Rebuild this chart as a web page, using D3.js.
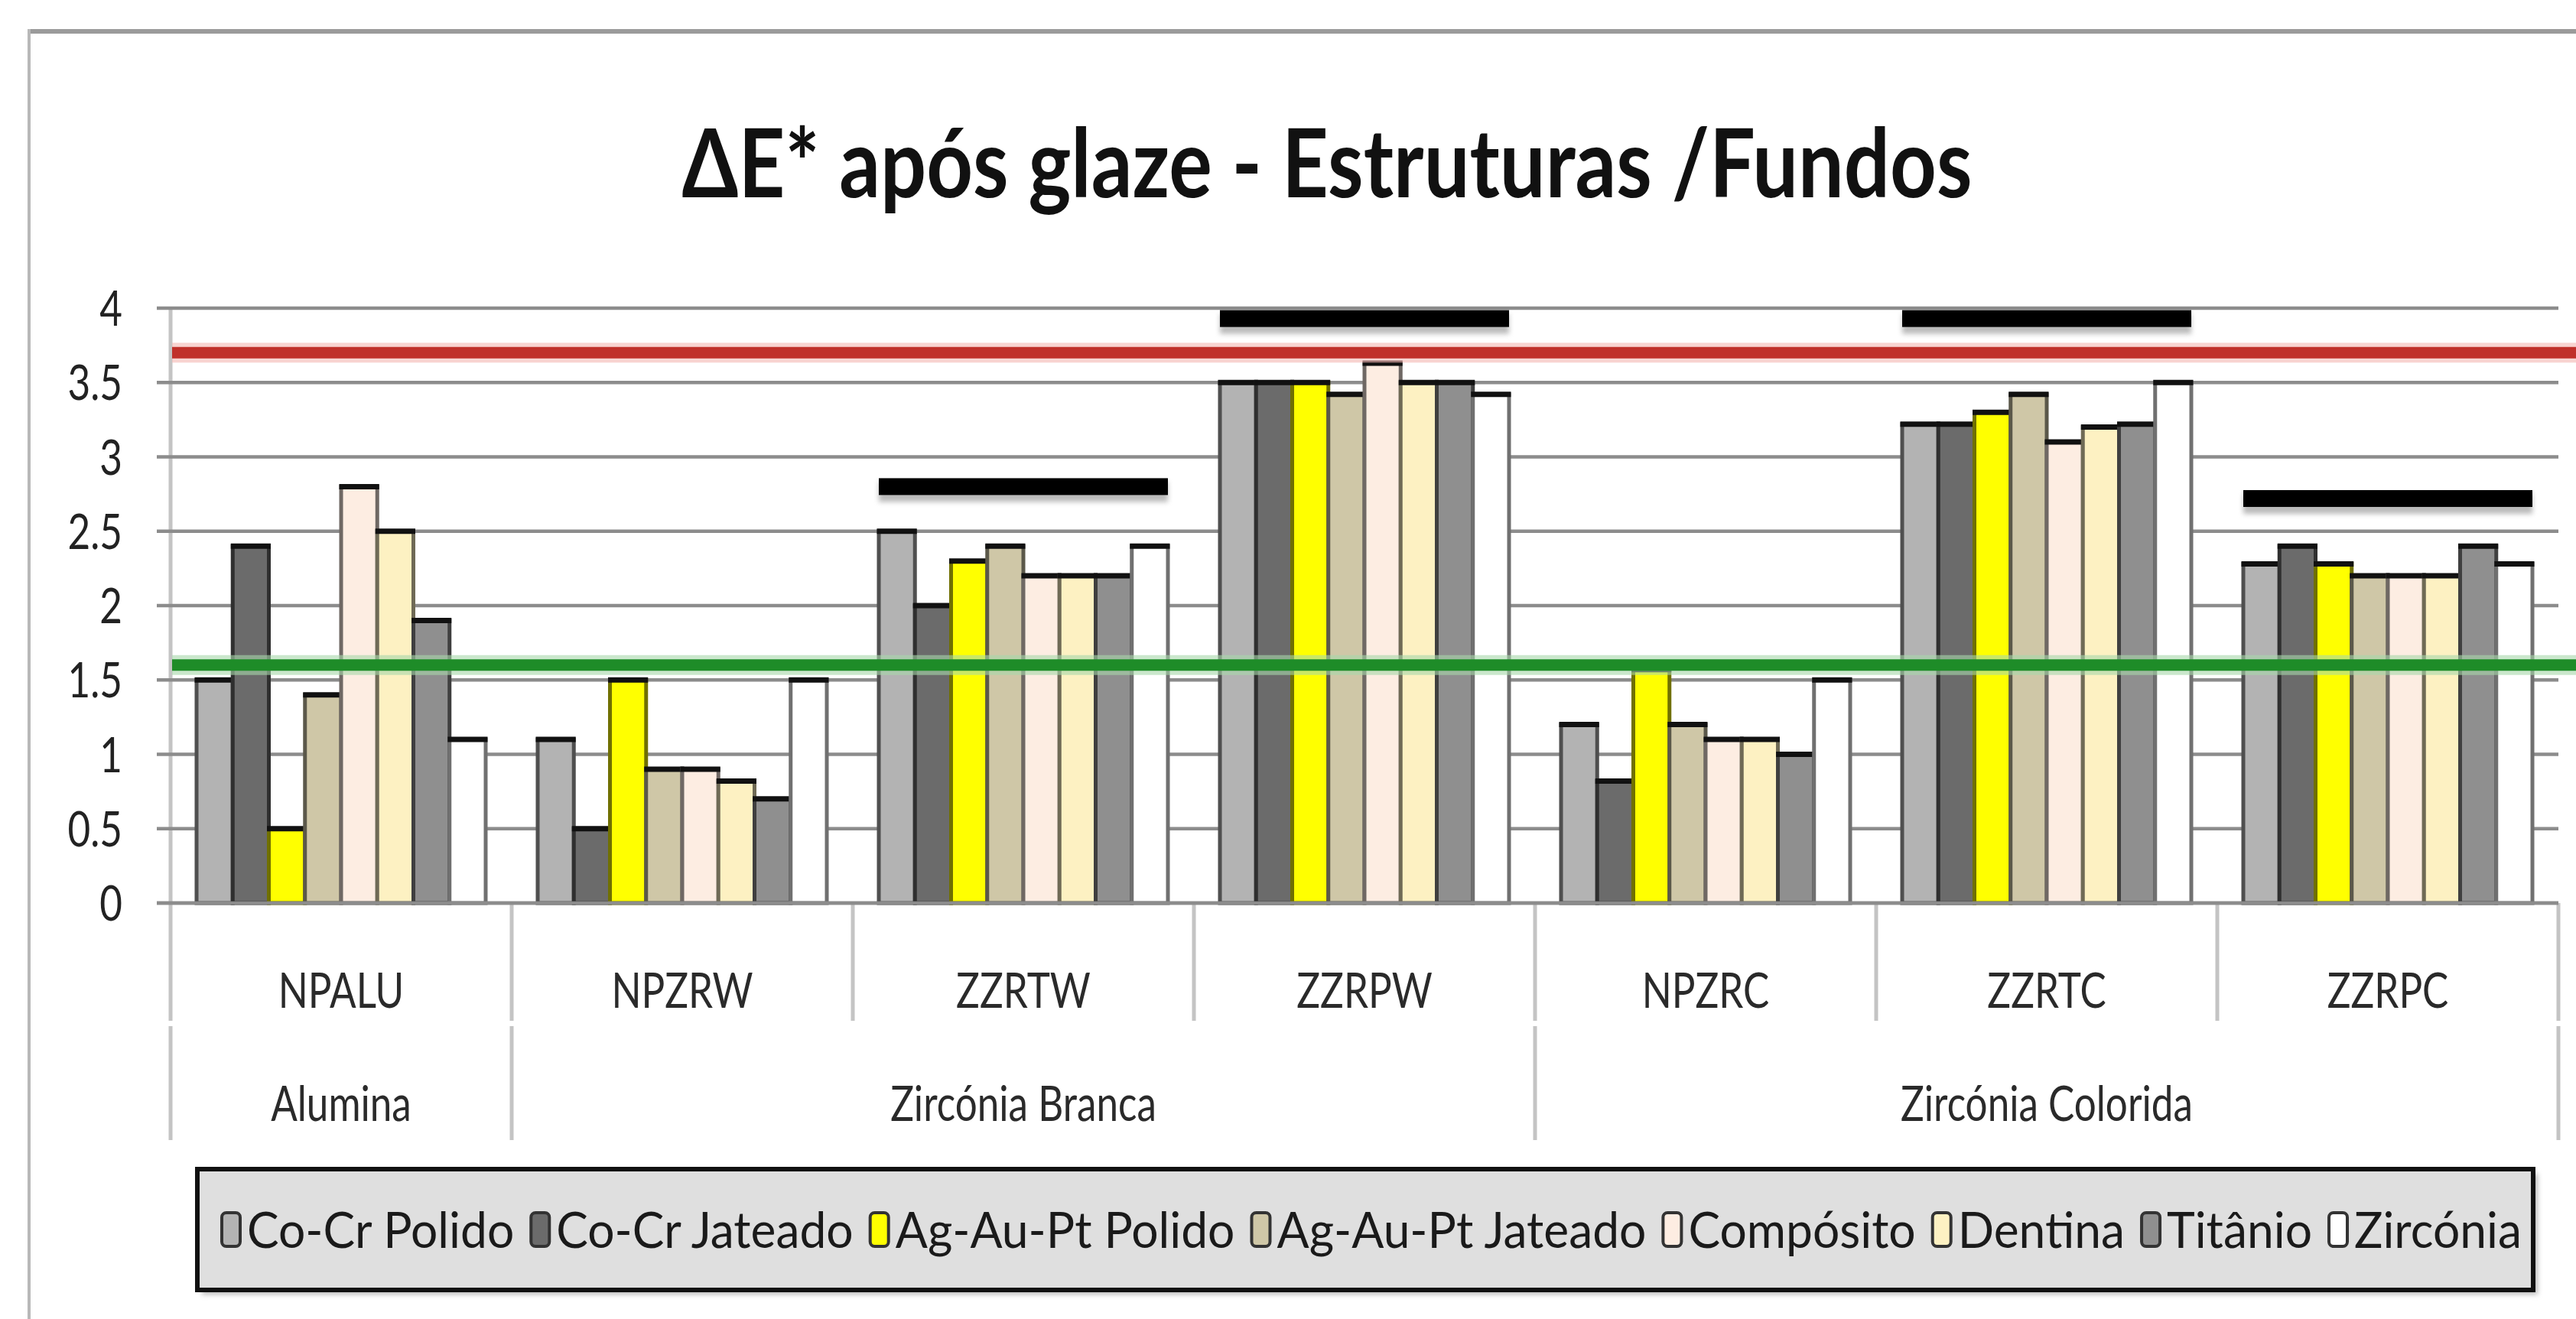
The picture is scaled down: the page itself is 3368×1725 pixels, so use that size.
<!DOCTYPE html>
<html lang="pt">
<head>
<meta charset="utf-8">
<script src="https://d3js.org/d3.v7.min.js"></script>
<style>
  body { margin: 0; background: #fff; }
  svg text { font-family: Lato, "Open Sans", sans-serif; }
</style>
<title>ΔE* após glaze</title>
</head>
<body>
<svg id="chart" width="3368" height="1725"></svg>
<script>
// ---- data ----
const categories = ["NPALU", "NPZRW", "ZZRTW", "ZZRPW", "NPZRC", "ZZRTC", "ZZRPC"];
const groups = ["Alumina", "Zircónia Branca", "Zircónia Colorida"];
const groupSizes = [1, 3, 3];

const seriesNames = ["Co-Cr Polido", "Co-Cr Jateado", "Ag-Au-Pt Polido", "Ag-Au-Pt Jateado",
                     "Compósito", "Dentina", "Titânio", "Zircónia"];
const seriesColors = ["#b3b3b3", "#6b6b6b", "#ffff00", "#cfc7a7",
                      "#fdede2", "#fdf1c2", "#8f8f8f", "#ffffff"];

// one value per category, same order as categories
const coCrPolido   = [1.5, 1.1, 2.5, 3.5, 1.2, 3.22, 2.28];
const coCrJateado  = [2.4, 0.5, 2.0, 3.5, 0.82, 3.22, 2.4];
const agAuPtPolido = [0.5, 1.5, 2.3, 3.5, 1.57, 3.3, 2.28];
const agAuPtJatead = [1.4, 0.9, 2.4, 3.42, 1.2, 3.42, 2.2];
const composito    = [2.8, 0.9, 2.2, 3.63, 1.1, 3.1, 2.2];
const dentina      = [2.5, 0.82, 2.2, 3.5, 1.1, 3.2, 2.2];
const titanio      = [1.9, 0.7, 2.2, 3.5, 1.0, 3.22, 2.4];
const zirconia     = [1.1, 1.5, 2.4, 3.42, 1.5, 3.5, 2.28];
const seriesValues = [coCrPolido, coCrJateado, agAuPtPolido, agAuPtJatead,
                      composito, dentina, titanio, zirconia];

const yTicks = [0, 0.5, 1, 1.5, 2, 2.5, 3, 3.5, 4];
const redLimit = 3.7;
const greenLimit = 1.6;

// black significance bars above some groups
const markerCats = ["ZZRTW", "ZZRPW", "ZZRTC", "ZZRPC"];
const markerVals = [2.8, 3.93, 3.93, 2.72];

// ---- layout ----
const W = 3368, H = 1725;
const plotL = 223, plotR = 3345, yTop = 403, yBot = 1181;
const svg = d3.select("#chart");

const x0 = d3.scaleBand().domain(categories).range([plotL, plotR]);
const groupPad = 34;
const x1 = d3.scaleBand().domain(seriesNames).range([groupPad, x0.bandwidth() - groupPad]);
const y = d3.scaleLinear().domain([0, 4]).range([yBot, yTop]);
const color = d3.scaleOrdinal().domain(seriesNames).range(seriesColors);

function squeeze(sel, k) {
  sel.each(function () {
    const w = this.getComputedTextLength();
    d3.select(this).attr("textLength", w * k).attr("lengthAdjust", "spacingAndGlyphs");
  });
}

// chart frame
svg.append("line").attr("x1", 38).attr("x2", W).attr("y1", 41).attr("y2", 41)
  .attr("stroke", "#9b9b9b").attr("stroke-width", 6);
svg.append("line").attr("x1", 38).attr("x2", 38).attr("y1", 38).attr("y2", H)
  .attr("stroke", "#b8b8b8").attr("stroke-width", 4);

// title
const title = svg.append("text")
  .attr("x", 1735).attr("y", 258)
  .attr("text-anchor", "middle")
  .attr("font-size", 124).attr("font-weight", "bold").attr("fill", "#111")
  .text("ΔE* após glaze - Estruturas /Fundos");
title.attr("textLength", 1687).attr("lengthAdjust", "spacingAndGlyphs");

// vertical axis line + category dividers
const bounds = d3.range(categories.length + 1).map(i => plotL + i * x0.bandwidth());
const groupBounds = [0];
groupSizes.forEach((s, i) => groupBounds.push(groupBounds[i] + s));

svg.append("g").selectAll("line").data(bounds).join("line")
  .attr("x1", d => d).attr("x2", d => d)
  .attr("y1", (d, i) => i === 0 ? yTop : yBot)
  .attr("y2", 1335)
  .attr("stroke", "#c4c4c4").attr("stroke-width", 5);
svg.append("g").selectAll("line").data(groupBounds).join("line")
  .attr("x1", i => bounds[i]).attr("x2", i => bounds[i])
  .attr("y1", 1342).attr("y2", 1491)
  .attr("stroke", "#c4c4c4").attr("stroke-width", 5);

// gridlines + ticks
svg.append("g").selectAll("line").data(yTicks).join("line")
  .attr("x1", 205).attr("x2", plotR)
  .attr("y1", d => y(d)).attr("y2", d => y(d))
  .attr("stroke", "#8c8c8c").attr("stroke-width", 4.5);

const tickLabels = svg.append("g").selectAll("text").data(yTicks).join("text")
  .attr("x", 160).attr("y", d => y(d)).attr("dy", "0.36em")
  .attr("text-anchor", "end").attr("font-size", 64).attr("fill", "#222")
  .text(d => d);
squeeze(tickLabels, 0.8);

// bars
const barData = [];
categories.forEach((c, ci) => seriesNames.forEach((s, si) =>
  barData.push({ cat: c, series: s, value: seriesValues[si][ci] })));

const bars = svg.append("g").selectAll("g").data(barData).join("g")
  .attr("transform", d => `translate(${x0(d.cat) + x1(d.series)},0)`);
bars.append("rect")
  .attr("x", 0).attr("width", x1.bandwidth())
  .attr("y", d => y(d.value)).attr("height", d => y(0) - y(d.value))
  .attr("fill", d => color(d.series))
  .attr("stroke", d => d3.color(color(d.series)).darker(2.3))
  .attr("stroke-width", 5);
bars.append("line")
  .attr("x1", -2.5).attr("x2", x1.bandwidth() + 2.5)
  .attr("y1", d => y(d.value)).attr("y2", d => y(d.value))
  .attr("stroke", "#111").attr("stroke-width", 7);

// axis baseline
svg.append("line").attr("x1", 205).attr("x2", plotR).attr("y1", y(0)).attr("y2", y(0))
  .attr("stroke", "#8c8c8c").attr("stroke-width", 4.5);

// significance markers
const defs = svg.append("defs");
defs.append("filter").attr("id", "soft").attr("x", "-5%").attr("y", "-100%")
  .attr("width", "110%").attr("height", "300%")
  .append("feGaussianBlur").attr("stdDeviation", 3);

const mk = svg.append("g").selectAll("g").data(markerCats).join("g");
mk.append("rect")
  .attr("x", d => x0(d) + groupPad).attr("width", x0.bandwidth() - 2 * groupPad)
  .attr("y", (d, i) => y(markerVals[i]) - 6).attr("height", 26)
  .attr("fill", "#777").attr("opacity", 0.5).attr("filter", "url(#soft)");
mk.append("rect")
  .attr("x", d => x0(d) + groupPad).attr("width", x0.bandwidth() - 2 * groupPad)
  .attr("y", (d, i) => y(markerVals[i]) - 11).attr("height", 22)
  .attr("fill", "#000");

// limit lines
[[redLimit, "#c0302a", "#f4b8b4"], [greenLimit, "#1e8c28", "#a8d8ab"]].forEach(([v, c, halo]) => {
  svg.append("line").attr("x1", 225).attr("x2", W).attr("y1", y(v)).attr("y2", y(v))
    .attr("stroke", halo).attr("stroke-width", 26).attr("opacity", 0.6);
  svg.append("line").attr("x1", 225).attr("x2", W).attr("y1", y(v)).attr("y2", y(v))
    .attr("stroke", c).attr("stroke-width", 15);
});

// category labels
const catLabels = svg.append("g").selectAll("text").data(categories).join("text")
  .attr("x", d => x0(d) + x0.bandwidth() / 2).attr("y", 1295).attr("dy", "0.36em")
  .attr("text-anchor", "middle").attr("font-size", 64).attr("fill", "#2a2a2a")
  .text(d => d);
squeeze(catLabels, 0.8);

const grpLabels = svg.append("g").selectAll("text").data(groups).join("text")
  .attr("x", (d, i) => (bounds[groupBounds[i]] + bounds[groupBounds[i + 1]]) / 2)
  .attr("y", 1443).attr("dy", "0.36em")
  .attr("text-anchor", "middle").attr("font-size", 64).attr("fill", "#2a2a2a")
  .text(d => d);
squeeze(grpLabels, 0.8);

// legend
const legX = 258, legY = 1529, legW = 3054, legH = 158;
svg.append("rect").attr("x", legX + 6).attr("y", legY + 6).attr("width", legW).attr("height", legH)
  .attr("fill", "#bbb").attr("filter", "url(#soft)");
svg.append("rect").attr("x", legX).attr("y", legY).attr("width", legW).attr("height", legH)
  .attr("fill", "#dfdfdf").attr("stroke", "#111").attr("stroke-width", 6);

const swW = 24, swH = 44, swGap = 9, itemGap = 22;
const legItems = svg.append("g").selectAll("g").data(seriesNames).join("g");
const legText = legItems.append("text")
  .attr("y", legY + legH / 2).attr("dy", "0.36em")
  .attr("font-size", 66).attr("fill", "#1a1a1a")
  .text(d => d);
const natural = [];
legText.each(function () { natural.push(this.getComputedTextLength()); });
const target = 3007;
const fixed = seriesNames.length * (swW + swGap) + (seriesNames.length - 1) * itemGap;
const k = (target - fixed) / d3.sum(natural);
let cx = 290;
legItems.each(function (d, i) {
  const g = d3.select(this);
  g.insert("rect", "text")
    .attr("x", cx).attr("y", legY + legH / 2 - swH / 2)
    .attr("width", swW).attr("height", swH).attr("rx", 6)
    .attr("fill", color(d)).attr("stroke", "#333").attr("stroke-width", 4);
  g.select("text").attr("x", cx + swW + swGap)
    .attr("textLength", natural[i] * k).attr("lengthAdjust", "spacingAndGlyphs");
  cx += swW + swGap + natural[i] * k + itemGap;
});
</script>
</body>
</html>
